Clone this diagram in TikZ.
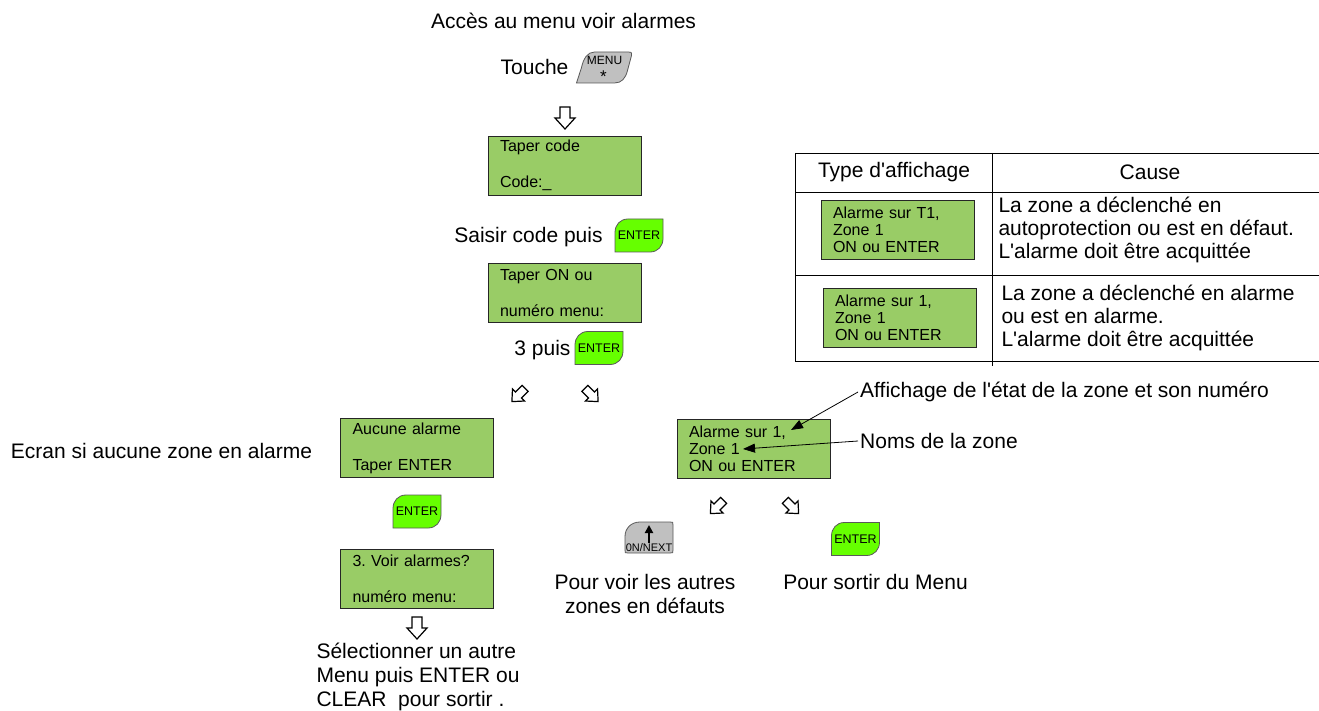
\documentclass[tikz,border=0pt]{standalone}
\usepackage{fontspec}
\setmainfont{Liberation Sans}
\newfontfamily\diagfont{Liberation Sans}
\usetikzlibrary{arrows.meta}
\frenchspacing

\definecolor{lcdgreen}{HTML}{99CC66}
\definecolor{keygreen}{HTML}{66FF00}
\definecolor{keygray}{HTML}{C0C0C0}

% touche ENTER : nom, centre
\newcommand{\enterkey}[2]{%
  \begin{scope}[shift={#2}]
    \draw[keyline, fill=keygreen] (-24,16.5) -- (-24,-3) .. controls (-24,-10.5) and (-19,-16.5) .. (-11,-16.5) -- (24,-16.5) -- (24,3) .. controls (24,10.5) and (19,16.5) .. (11,16.5) -- cycle;
    \node[keylabel] (#1) at (0,0) {ENTER};
  \end{scope}}
% fleche creuse : nom, centre, angle, echelle
\newcommand{\hollowarrow}[4]{%
  \begin{scope}[shift={#2}, rotate=#3, scale=#4]
    \draw[hollowline] (-11,-5) -- (0,-5) -- (0,-10) -- (11,0) -- (0,10) -- (0,5) -- (-11,5) -- cycle;
    \coordinate (#1) at (0,0);
  \end{scope}}

\begin{document}
\begin{tikzpicture}[x=1pt, y=-1pt,
    every node/.style={font=\diagfont\fontsize{21}{24}\selectfont},
    lcd/.style={draw=black!85, fill=lcdgreen, minimum width=153pt, minimum height=59pt, text width=129pt, inner xsep=12pt, inner ysep=0pt, align=left, font=\diagfont\fontsize{16}{18}\selectfont},
    lcdthree/.style={lcd, font=\diagfont\fontsize{16}{17}\selectfont},
    keyline/.style={draw=black!65, line width=0.8pt},
    keylabel/.style={inner sep=0pt, font=\diagfont\fontsize{12.5}{13}\selectfont},
    hollowline/.style={draw, fill=white, line width=1.2pt, line join=miter},
    pointer/.style={-{Triangle[length=12pt,width=9pt]}, line width=0.8pt},
    tabline/.style={line width=0.8pt}]
    \useasboundingbox (0,0) rectangle (1319,711);

    \node (titre) at (563.5,21) {Accès au menu voir alarmes};
    \node (touche) at (534.5,67) {Touche};
    \begin{scope}[shift={(603.5,67.5)}]
        \draw[keyline, fill=keygray] (-27,15.5) -- (-22,0) .. controls (-20,-9) and (-16,-15.5) .. (-9,-15.5) -- (25,-15.5) .. controls (28,-15.5) .. (28,-12) -- (24,3) .. controls (22,11) and (18,15.5) .. (11,15.5) -- cycle;
        \node[keylabel, font=\diagfont\fontsize{12}{12}\selectfont] (menukey) at (1,-7.5) {MENU};
        \node[keylabel, font=\diagfont\fontsize{17}{17}\selectfont] (menustar) at (0,9) {*};
    \end{scope}
    \hollowarrow{fl1}{(565,118)}{-90}{1}
    \node[lcd] (code) at (564.5,165.5) {Taper code\\[18pt]Code:\_};
    \node (saisir) at (528.5,237) {Saisir code puis};
    \enterkey{ent1}{(639,235.5)}
    \node[lcd] (menu) at (564.5,293) {Taper ON ou\\[18pt]numéro menu:};
    \node (trois) at (542.5,350) {3 puis};
    \enterkey{ent2}{(599,348)}
    \hollowarrow{fl2}{(518.5,395)}{-135}{0.85}
    \hollowarrow{fl3}{(591.5,395)}{-45}{0.85}

    % cas sans alarme
    \node (ecran) at (161.5,451) {Ecran si aucune zone en alarme};
    \node[lcd] (aucune) at (417,448) {Aucune alarme\\[18pt]Taper ENTER};
    \enterkey{ent3}{(417,511.5)}
    \node[lcd] (voir) at (417,578.5) {3. Voir alarmes?\\[18pt]numéro menu:};
    \hollowarrow{fl4}{(417,628)}{-90}{1}
    \node[align=left, anchor=west] (autre) at (313,677) {Sélectionner un autre\\Menu puis ENTER ou\\CLEAR\ \ pour sortir .};

    % cas avec alarme
    \node[lcdthree] (alarme) at (753.5,448.5) {Alarme sur 1,\\Zone 1\\ON ou ENTER};
    \node[anchor=west, inner sep=2pt] (affich) at (858,392) {Affichage de l'état de la zone et son numéro};
    \node[anchor=west, inner sep=2pt] (noms) at (858,441) {Noms de la zone};
    \coordinate (pa) at (791,430);
    \coordinate (pb) at (743,449);
    \draw[pointer] (affich.west) -- (pa);
    \draw[pointer] (noms.west) -- (pb);
    \hollowarrow{fl5}{(717,507)}{-135}{0.85}
    \hollowarrow{fl6}{(792,507)}{-45}{0.85}
    \begin{scope}[shift={(649,537.5)}]
        \draw[keyline, fill=keygray] (-24,12.5) -- (-24,-1) .. controls (-24,-9) and (-18,-15.5) .. (-9,-15.5) -- (21,-15.5) .. controls (24,-15.5) .. (24,-12.5) -- (24,12.5) .. controls (24,15.5) .. (21,15.5) -- (-21,15.5) .. controls (-24,15.5) .. (-24,12.5) -- cycle;
        \draw[-{Triangle[length=8pt,width=8pt]}, line width=2pt] (0,5.5) -- (0,-12.5);
        \node[keylabel, font=\diagfont\fontsize{11}{12}\selectfont] (next) at (0,10) {0N/NEXT};
    \end{scope}
    \enterkey{ent4}{(855.5,539)}
    \node[align=center] (autres) at (645,594) {Pour voir les autres\\zones en défauts};
    \node (sortir) at (875.5,582) {Pour sortir du Menu};

    % tableau
    \draw[tabline] (795,153) -- (1319,153);
    \draw[tabline] (795,192) -- (1319,192);
    \draw[tabline] (795,275) -- (1319,275);
    \draw[tabline] (795,361) -- (1319,361);
    \draw[tabline] (795,153) -- (795,361);
    \draw[tabline] (992,153) -- (992,366);
    \node (thtype) at (894,172) {Type d'affichage};
    \node (thcause) at (1150,172) {Cause};
    \node[lcdthree] (ex1) at (897.5,229.5) {Alarme sur T1,\\Zone 1\\ON ou ENTER};
    \node[lcdthree] (ex2) at (899.5,317.5) {Alarme sur 1,\\Zone 1\\ON ou ENTER};
    \node[anchor=west, align=left, font=\diagfont\fontsize{21}{23}\selectfont] (cause1) at (995,230) {La zone a déclenché en\\autoprotection ou est en défaut.\\L'alarme doit être acquittée};
    \node[anchor=west, align=left, font=\diagfont\fontsize{21}{23}\selectfont] (cause2) at (998,318) {La zone a déclenché en alarme\\ou est en alarme.\\L'alarme doit être acquittée};
\end{tikzpicture}
\end{document}
